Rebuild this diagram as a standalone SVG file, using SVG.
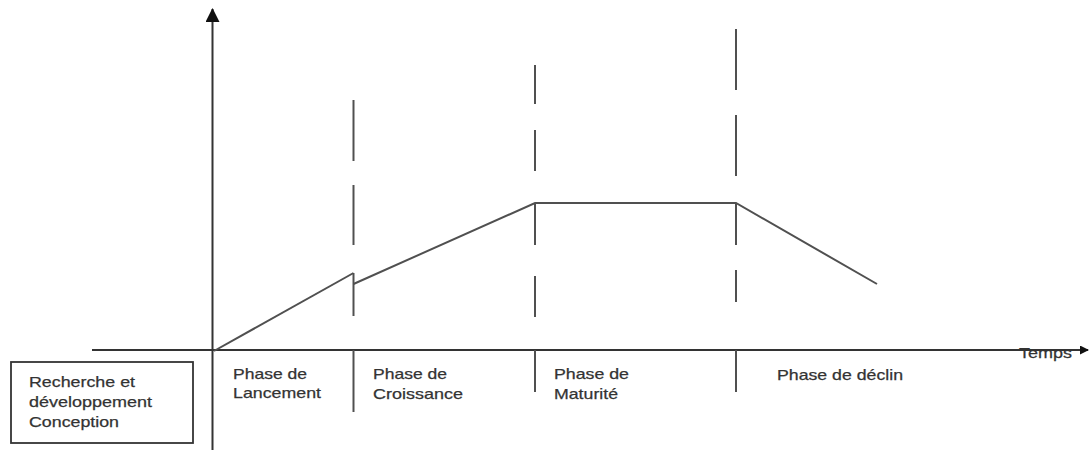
<svg xmlns="http://www.w3.org/2000/svg" width="1089" height="450" viewBox="0 0 1089 450">
  <style>
    .ln { stroke: #505050; stroke-width: 2; fill: none; stroke-linecap: butt; }
    .ax { stroke: #333; stroke-width: 2; fill: none; }
    .lbl { font-family: "Liberation Sans", Arial, sans-serif; font-size: 15px; fill: #333; stroke: #333; stroke-width: 0.25; }
  </style>
  <defs>
    <marker id="arr" markerWidth="9" markerHeight="9" refX="8" refY="4.5" orient="auto" markerUnits="userSpaceOnUse">
      <path d="M0,0 L9,4.5 L0,9 Z" fill="#111"/>
    </marker>
    <marker id="arrUp" markerWidth="14" markerHeight="14" refX="13" refY="7" orient="auto" markerUnits="userSpaceOnUse">
      <path d="M0,0 L14,7 L0,14 Z" fill="#111"/>
    </marker>
  </defs>
  <rect width="1089" height="450" fill="#fff"/>

  <g id="connectors">
    <!-- axes -->
    <line class="ax" x1="212.5" y1="450" x2="212.5" y2="9" marker-end="url(#arrUp)"/>
    <line class="ax" x1="92" y1="350" x2="1088" y2="350" marker-end="url(#arr)"/>

    <!-- phase dividers -->
    <g id="divider-1">
      <line class="ln" x1="353.5" y1="100" x2="353.5" y2="161"/>
      <line class="ln" x1="353.5" y1="185" x2="353.5" y2="245"/>
      <line class="ln" x1="353.5" y1="273" x2="353.5" y2="316"/>
      <line class="ln" x1="353.5" y1="350" x2="353.5" y2="412"/>
    </g>
    <g id="divider-2">
      <line class="ln" x1="535" y1="65" x2="535" y2="104"/>
      <line class="ln" x1="535" y1="130" x2="535" y2="171"/>
      <line class="ln" x1="535" y1="203" x2="535" y2="245"/>
      <line class="ln" x1="535" y1="276" x2="535" y2="317"/>
      <line class="ln" x1="535" y1="350" x2="535" y2="392"/>
    </g>
    <g id="divider-3">
      <line class="ln" x1="736" y1="29" x2="736" y2="90"/>
      <line class="ln" x1="736" y1="115" x2="736" y2="176"/>
      <line class="ln" x1="736" y1="203" x2="736" y2="245"/>
      <line class="ln" x1="736" y1="270" x2="736" y2="302"/>
      <line class="ln" x1="736" y1="350" x2="736" y2="392"/>
    </g>

    <!-- life cycle curve -->
    <polyline id="curve-launch" class="ln" points="214,351 353.5,273"/>
    <polyline id="curve-rest" class="ln" points="353.5,284 535,203 736,203 877,284"/>
  </g>

  <g id="node-rd">
    <rect x="11" y="362" width="182" height="81" fill="#fff" stroke="#333" stroke-width="1.8"/>
    <text class="lbl" x="29" y="387" textLength="106" lengthAdjust="spacingAndGlyphs">Recherche et</text>
    <text class="lbl" x="29" y="407" textLength="123" lengthAdjust="spacingAndGlyphs">développement</text>
    <text class="lbl" x="29" y="427" textLength="90" lengthAdjust="spacingAndGlyphs">Conception</text>
  </g>

  <g id="node-lancement">
    <text class="lbl" x="233" y="379" textLength="74" lengthAdjust="spacingAndGlyphs">Phase de</text>
    <text class="lbl" x="233" y="398" textLength="88" lengthAdjust="spacingAndGlyphs">Lancement</text>
  </g>

  <g id="node-croissance">
    <text class="lbl" x="373" y="379" textLength="74" lengthAdjust="spacingAndGlyphs">Phase de</text>
    <text class="lbl" x="373" y="399" textLength="90" lengthAdjust="spacingAndGlyphs">Croissance</text>
  </g>

  <g id="node-maturite">
    <text class="lbl" x="554" y="379" textLength="75" lengthAdjust="spacingAndGlyphs">Phase de</text>
    <text class="lbl" x="554" y="399" textLength="64" lengthAdjust="spacingAndGlyphs">Maturité</text>
  </g>

  <g id="node-declin">
    <text class="lbl" x="777" y="380" textLength="126" lengthAdjust="spacingAndGlyphs">Phase de déclin</text>
  </g>

  <g id="node-temps">
    <text class="lbl" x="1019" y="358" textLength="53" lengthAdjust="spacingAndGlyphs">Temps</text>
  </g>
</svg>
